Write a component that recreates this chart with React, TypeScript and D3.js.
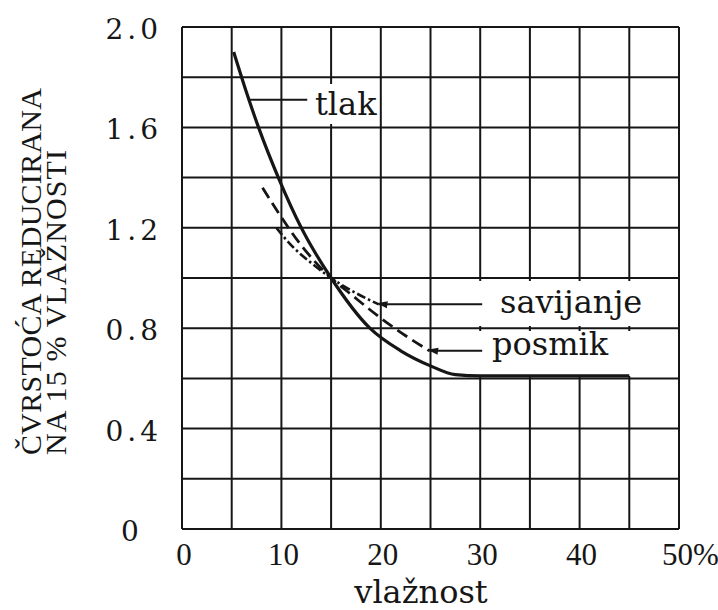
import { useEffect, useRef } from "react";
import * as d3 from "d3";

// moisture content (%) vs strength reduced to 15 % moisture
const xGrid = [0, 5, 10, 15, 20, 25, 30, 35, 40, 45, 50];
const yGrid = [0, 0.2, 0.4, 0.6, 0.8, 1.0, 1.2, 1.4, 1.6, 1.8, 2.0];
const xTicks = [0, 10, 20, 30, 40, 50];
const xTickLabels = ["0", "10", "20", "30", "40", "50%"];
const yTicks = [0, 0.4, 0.8, 1.2, 1.6, 2.0];
const yTickLabels = ["0", "0.4", "0.8", "1.2", "1.6", "2.0"];

const tlak: [number, number][] = [
  [5.2, 1.9], [6.4, 1.75], [7.7, 1.6], [9.8, 1.39], [12, 1.2], [15, 1.0],
  [18.9, 0.8], [22, 0.71], [25, 0.65], [27.5, 0.615], [30, 0.61], [45, 0.61],
];
const posmik: [number, number][] = [
  [8.1, 1.36], [9.7, 1.26], [12, 1.13], [15, 1.0], [17, 0.935],
  [20, 0.84], [22.5, 0.77], [24.9, 0.71],
];
const savijanje: [number, number][] = [
  [9.5, 1.2], [11, 1.13], [13, 1.06], [15, 1.0], [17.5, 0.94], [19.8, 0.895],
];

const W = 718;
const H = 610;
const ink = "#161616";
const typeFont = "'DejaVu Serif', 'Liberation Serif', serif";
const romanFont = "'Liberation Serif', 'Times New Roman', serif";

export default function App() {
  const ref = useRef<SVGSVGElement | null>(null);

  useEffect(() => {
    if (!ref.current) return;
    const svg = d3.select(ref.current);
    svg.selectAll("*").remove();

    const x = d3.scaleLinear().domain([0, 50]).range([182, 679]);
    const y = d3.scaleLinear().domain([0, 2]).range([529, 27]);

    svg.append("rect").attr("width", W).attr("height", H).attr("fill", "#fff");

    // grid
    const g = svg.append("g").attr("stroke", ink).attr("stroke-width", 2);
    g.selectAll("line.v")
      .data(xGrid)
      .enter()
      .append("line")
      .attr("x1", (d) => x(d))
      .attr("x2", (d) => x(d))
      .attr("y1", y(2))
      .attr("y2", y(0));
    g.selectAll("line.h")
      .data(yGrid)
      .enter()
      .append("line")
      .attr("x1", x(0))
      .attr("x2", x(50))
      .attr("y1", (d) => y(d))
      .attr("y2", (d) => y(d));

    // white boxes behind labels (grid is broken there)
    svg.append("rect").attr("x", 309).attr("y", 84).attr("width", 68).attr("height", 40).attr("fill", "#fff");
    svg.append("rect").attr("x", 476).attr("y", 281).attr("width", 198).attr("height", 45).attr("fill", "#fff");
    svg.append("rect").attr("x", 476).attr("y", 331).attr("width", 198).attr("height", 45).attr("fill", "#fff");

    const line = d3
      .line<[number, number]>()
      .x((d) => x(d[0]))
      .y((d) => y(d[1]))
      .curve(d3.curveMonotoneX);

    svg.append("path").attr("d", line(posmik)).attr("fill", "none")
      .attr("stroke", ink).attr("stroke-width", 2.8).attr("stroke-dasharray", "12 6");
    svg.append("path").attr("d", line(savijanje)).attr("fill", "none")
      .attr("stroke", ink).attr("stroke-width", 2.6).attr("stroke-dasharray", "9 3 2.5 3");
    svg.append("path").attr("d", line(tlak)).attr("fill", "none")
      .attr("stroke", ink).attr("stroke-width", 3.2);

    // leaders
    const leaders = [
      { from: [6.85, 1.71], to: 12.6 },
      { from: savijanje[savijanje.length - 1], to: 30.2 },
      { from: posmik[posmik.length - 1], to: 30.2 },
    ];
    leaders.forEach((l, i) => {
      const x0 = x(l.from[0]);
      const y0 = y(l.from[1]);
      svg.append("line").attr("x1", x0).attr("x2", x(l.to)).attr("y1", y0).attr("y2", y0)
        .attr("stroke", ink).attr("stroke-width", 2);
      if (i > 0) {
        svg.append("path")
          .attr("d", `M${x0 - 2},${y0 - 1}L${x0 + 9},${y0 - 3}L${x0 + 8},${y0 + 4}Z`)
          .attr("fill", ink);
      }
    });

    const addLabel = (t: string, px: number, py: number) =>
      svg.append("text").attr("x", px).attr("y", py).style("font-family", typeFont)
        .attr("font-size", 32).attr("fill", ink).text(t);
    addLabel("tlak", 315, 115);
    addLabel("savijanje", 500, 313);
    addLabel("posmik", 492, 355);

    // x tick labels
    svg.selectAll("text.xt")
      .data(xTicks)
      .enter()
      .append("text")
      .attr("x", (d, i) => (i === xTicks.length - 1 ? x(d) - 17 : x(d) + 2))
      .attr("y", 565)
      .attr("text-anchor", (d, i) => (i === xTicks.length - 1 ? "start" : "middle"))
      .style("font-family", romanFont)
      .attr("font-size", 31)
      .attr("fill", ink)
      .text((d, i) => xTickLabels[i]);

    // y tick labels
    svg.selectAll("text.yt")
      .data(yTicks)
      .enter()
      .append("text")
      .attr("x", (d) => (d === 0 ? 130 : 162))
      .attr("y", (d) => y(d) + 12)
      .attr("text-anchor", (d) => (d === 0 ? "middle" : "end"))
      .style("font-family", typeFont)
      .attr("font-size", 28)
      .attr("letter-spacing", (d) => (d === 0 ? 0 : 4))
      .attr("fill", ink)
      .text((d, i) => yTickLabels[i]);

    svg.append("text").attr("x", 421).attr("y", 603).attr("text-anchor", "middle")
      .style("font-family", typeFont).attr("font-size", 32).attr("fill", ink).text("vlažnost");

    // y title, two lines
    const title = ["ČVRSTOĆA REDUCIRANA", "NA 15 % VLAŽNOSTI"];
    const tx = [41, 66];
    const tl = [367, 305];
    title.forEach((t, i) => {
      svg.append("text")
        .attr("transform", `translate(${tx[i]},455) rotate(-90)`)
        .style("font-family", romanFont)
        .attr("font-size", 30)
        .attr("textLength", tl[i])
        .attr("lengthAdjust", "spacing")
        .attr("fill", ink)
        .text(t);
    });
  }, []);

  return (
    <svg
      ref={ref}
      width={W}
      height={H}
      style={{ position: "absolute", left: 0, top: 0 }}
    ></svg>
  );
}
